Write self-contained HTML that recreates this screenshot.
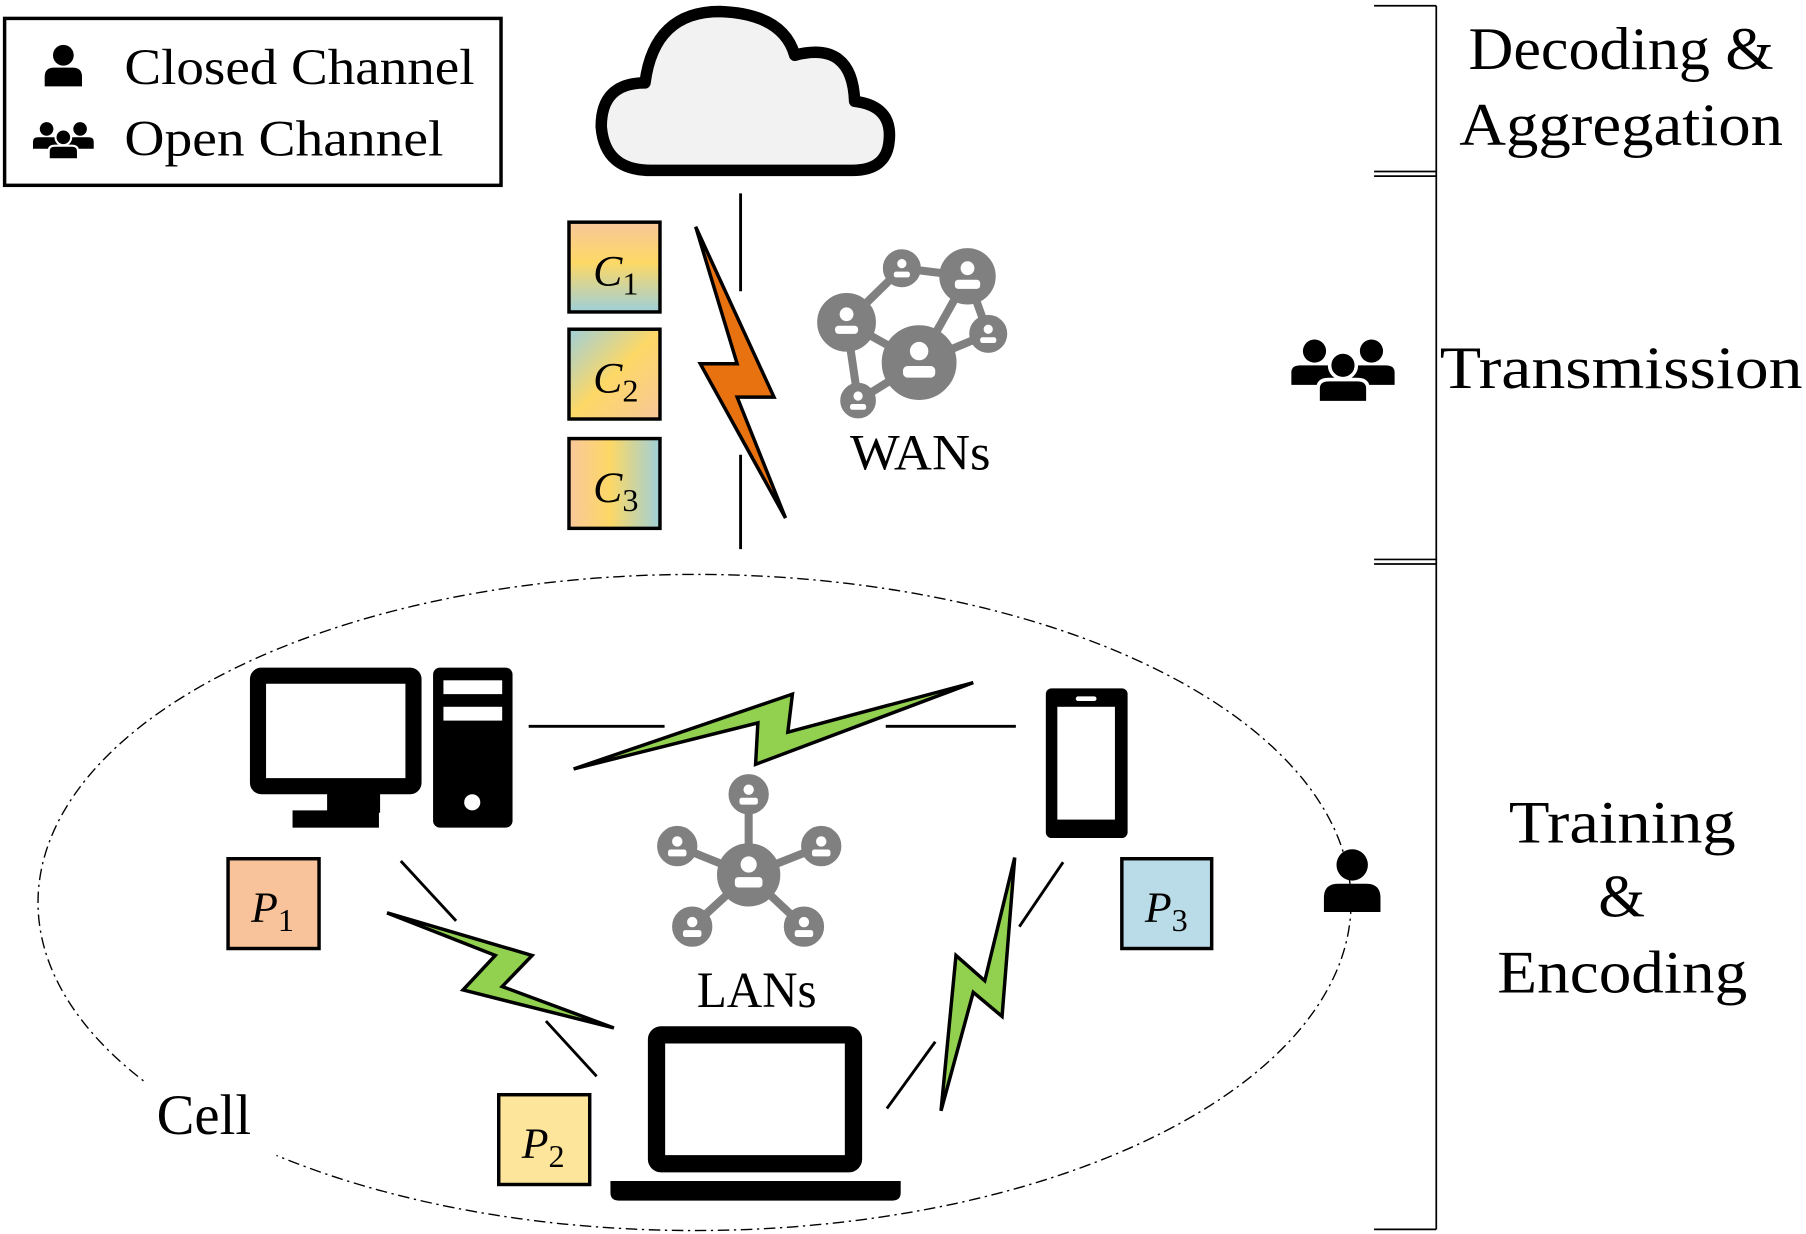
<!DOCTYPE html>
<html><head><meta charset="utf-8"><style>
html,body{margin:0;padding:0;background:#fff;}
svg{display:block;}
text{font-family:"Liberation Serif",serif;fill:#000;}
</style></head><body>
<svg width="1806" height="1234" viewBox="0 0 1568 1072" preserveAspectRatio="none" xmlns="http://www.w3.org/2000/svg">
<defs>
<symbol id="person" viewBox="-20 -22 40 44" overflow="visible">
<circle cx="0" cy="-10" r="10"/>
<path d="M-18,20 V11 Q-18,2 -9,2 H9 Q18,2 18,11 V20 Z"/>
</symbol>
<symbol id="group" viewBox="-30 -22 60 44" overflow="visible">
<circle cx="-16" cy="-11" r="6.5"/><path d="M-29,8 V1 Q-29,-3 -24,-3 H-8 Q-3,-3 -3,1 V8 Z"/>
<circle cx="16" cy="-11" r="6.5"/><path d="M3,8 V1 Q3,-3 8,-3 H24 Q29,-3 29,1 V8 Z"/>
<circle cx="0" cy="-3" r="7.5" stroke="#fff" stroke-width="2"/><path d="M-14,18 V10 Q-14,5 -8,5 H8 Q14,5 14,10 V18 Z" stroke="#fff" stroke-width="2"/>
</symbol>
<linearGradient id="g1" x1="0" y1="0" x2="0" y2="1"><stop offset="0" stop-color="#f8c79a"/><stop offset="0.45" stop-color="#fdd866"/><stop offset="1" stop-color="#9ecfd9"/></linearGradient>
<linearGradient id="g2" x1="0" y1="0" x2="1" y2="1"><stop offset="0" stop-color="#9ecfd9"/><stop offset="0.5" stop-color="#fdd866"/><stop offset="1" stop-color="#f8c79a"/></linearGradient>
<linearGradient id="g3" x1="0" y1="0" x2="1" y2="0"><stop offset="0" stop-color="#f8c79a"/><stop offset="0.45" stop-color="#fdd866"/><stop offset="1" stop-color="#9ecfd9"/></linearGradient>
</defs>

<rect x="4" y="16" width="431" height="145" fill="#fff" stroke="#000" stroke-width="3"/>
<use href="#person" x="37" y="37" width="36" height="40"/>
<use href="#group" x="27" y="102" width="56" height="40"/>
<text x="108" y="73" font-size="44" textLength="304" lengthAdjust="spacingAndGlyphs">Closed Channel</text>
<text x="108" y="135" font-size="44" textLength="277" lengthAdjust="spacingAndGlyphs">Open Channel</text>

<path d="M565,148 Q525,148 522,110 Q522,72 560,72 Q568,10 625,10 Q680,12 690,48 Q740,35 742,88 Q775,92 772,122 Q770,148 740,148 Z" fill="#f2f2f2" stroke="#000" stroke-width="10" stroke-linejoin="round"/>

<g stroke="#000" stroke-width="1.5" fill="none">
<line x1="1247" y1="5" x2="1247" y2="1068"/>
<line x1="1193" y1="5" x2="1247" y2="5"/>
<line x1="1193" y1="149" x2="1247" y2="149"/><line x1="1193" y1="153" x2="1247" y2="153"/>
<line x1="1193" y1="486" x2="1247" y2="486"/><line x1="1193" y1="490" x2="1247" y2="490"/>
<line x1="1193" y1="1068" x2="1247" y2="1068"/>
</g>
<g font-size="52">
<text x="1275" y="60" textLength="265" lengthAdjust="spacingAndGlyphs">Decoding &amp;</text>
<text x="1267" y="126" textLength="281" lengthAdjust="spacingAndGlyphs">Aggregation</text>
<text x="1250" y="337" textLength="315" lengthAdjust="spacingAndGlyphs">Transmission</text>
<text x="1310" y="732" textLength="197" lengthAdjust="spacingAndGlyphs">Training</text>
<text x="1408" y="796" text-anchor="middle">&amp;</text>
<text x="1300" y="862" textLength="217" lengthAdjust="spacingAndGlyphs">Encoding</text>
</g>
<use href="#group" x="1118" y="288" width="96" height="68"/>
<use href="#person" x="1146" y="735" width="56" height="60"/>

<g stroke="#000" stroke-width="3">
<rect x="494" y="193" width="79" height="78" fill="url(#g1)"/>
<rect x="494" y="286" width="79" height="78" fill="url(#g2)"/>
<rect x="494" y="381" width="79" height="78" fill="url(#g3)"/>
</g>
<g font-size="38" font-style="italic">
<text x="515" y="248">C<tspan font-size="28" font-style="normal" dy="8">1</tspan></text>
<text x="515" y="341">C<tspan font-size="28" font-style="normal" dy="8">2</tspan></text>
<text x="515" y="436">C<tspan font-size="28" font-style="normal" dy="8">3</tspan></text>
</g>
<g stroke="#000" stroke-width="2.5">
<line x1="643" y1="168" x2="643" y2="253"/>
<line x1="643" y1="395" x2="643" y2="477"/>
</g>
<polygon points="604,197 672,345 640,345 682,450 608,316 640,316" fill="#e8720f" stroke="#000" stroke-width="3"/>

<g fill="#808080" stroke="#808080">
<g stroke-width="7">
<line x1="735" y1="280" x2="783" y2="233"/><line x1="783" y1="233" x2="840" y2="240"/>
<line x1="840" y1="240" x2="798" y2="315"/><line x1="840" y1="240" x2="858" y2="290"/>
<line x1="735" y1="280" x2="798" y2="315"/><line x1="735" y1="280" x2="745" y2="348"/>
<line x1="745" y1="348" x2="798" y2="315"/><line x1="798" y1="315" x2="858" y2="290"/>
</g>
<circle cx="735" cy="280" r="25"/><circle cx="783" cy="233" r="16"/><circle cx="840" cy="240" r="24"/>
<circle cx="798" cy="315" r="32"/><circle cx="858" cy="290" r="16"/><circle cx="745" cy="348" r="15"/>
</g>
<g fill="#fff">
<circle cx="735" cy="273" r="6"/><rect x="725" y="283" width="20" height="7" rx="3"/>
<circle cx="783" cy="229" r="4"/><rect x="776" y="236" width="14" height="5" rx="2"/>
<circle cx="840" cy="233" r="6"/><rect x="829" y="243" width="22" height="8" rx="3"/>
<circle cx="798" cy="305" r="8"/><rect x="784" y="318" width="28" height="10" rx="4"/>
<circle cx="858" cy="286" r="4"/><rect x="851" y="293" width="14" height="5" rx="2"/>
<circle cx="745" cy="344" r="4"/><rect x="738" y="351" width="14" height="5" rx="2"/>
</g>
<text x="738" y="408" font-size="44" textLength="122" lengthAdjust="spacingAndGlyphs">WANs</text>

<ellipse cx="603" cy="784" rx="570" ry="285" fill="none" stroke="#000" stroke-width="1.2" stroke-dasharray="10,4,2,4"/>
<rect x="110" y="940" width="130" height="70" fill="#fff"/>
<text x="136" y="985" font-size="50" textLength="82" lengthAdjust="spacingAndGlyphs">Cell</text>

<rect x="224" y="587" width="135" height="96" fill="#fff" stroke="#000" stroke-width="14" rx="3"/>
<rect x="284" y="688" width="46" height="18" fill="#000"/>
<rect x="254" y="704" width="75" height="15" fill="#000"/>
<rect x="376" y="580" width="69" height="139" rx="6" fill="#000"/>
<rect x="385" y="591" width="51" height="12" fill="#fff"/>
<rect x="385" y="614" width="51" height="12" fill="#fff"/>
<circle cx="410" cy="697" r="7" fill="#fff"/>

<rect x="908" y="598" width="71" height="130" rx="5" fill="#000"/>
<rect x="918" y="614" width="50" height="98" fill="#fff"/>
<rect x="934" y="605" width="18" height="4" rx="2" fill="#fff"/>

<rect x="570" y="899" width="171" height="112" fill="#fff" stroke="#000" stroke-width="15" rx="4"/>
<path d="M530,1026 H782 V1036 Q782,1043 775,1043 H537 Q530,1043 530,1036 Z" fill="#000"/>

<g stroke="#000" stroke-width="2.5">
<line x1="459" y1="631" x2="577" y2="631"/><line x1="769" y1="631" x2="882" y2="631"/>
<line x1="348" y1="748" x2="396" y2="800"/><line x1="474" y1="887" x2="518" y2="935"/>
<line x1="923" y1="749" x2="885" y2="805"/><line x1="770" y1="963" x2="812" y2="905"/>
</g>
<g fill="#92d050" stroke="#000" stroke-width="3">
<polygon points="498,668 688,603 684,636 845,593 656,664 658,628"/>
<polygon points="336,793 462,830 436,857 533,893 402,860 430,830"/>
<polygon points="881,745 870,883 845,862 817,965 830,830 855,852"/>
</g>

<g fill="#808080" stroke="#808080">
<g stroke-width="7">
<line x1="650" y1="760" x2="650" y2="690"/><line x1="650" y1="760" x2="588" y2="735"/>
<line x1="650" y1="760" x2="713" y2="735"/><line x1="650" y1="760" x2="601" y2="805"/>
<line x1="650" y1="760" x2="698" y2="805"/>
</g>
<circle cx="650" cy="760" r="27"/><circle cx="650" cy="690" r="17"/><circle cx="588" cy="735" r="17"/>
<circle cx="713" cy="735" r="17"/><circle cx="601" cy="805" r="17"/><circle cx="698" cy="805" r="17"/>
</g>
<g fill="#fff">
<circle cx="650" cy="751" r="7"/><rect x="638" y="762" width="24" height="9" rx="3"/>
<circle cx="650" cy="686" r="4.5"/><rect x="642" y="693" width="16" height="6" rx="2"/>
<circle cx="588" cy="731" r="4.5"/><rect x="580" y="738" width="16" height="6" rx="2"/>
<circle cx="713" cy="731" r="4.5"/><rect x="705" y="738" width="16" height="6" rx="2"/>
<circle cx="601" cy="801" r="4.5"/><rect x="593" y="808" width="16" height="6" rx="2"/>
<circle cx="698" cy="801" r="4.5"/><rect x="690" y="808" width="16" height="6" rx="2"/>
</g>
<text x="605" y="875" font-size="44" textLength="104" lengthAdjust="spacingAndGlyphs">LANs</text>

<g stroke="#000" stroke-width="3">
<rect x="198" y="746" width="79" height="78" fill="#f8c39b"/>
<rect x="433" y="951" width="79" height="78" fill="#fde59b"/>
<rect x="974" y="746" width="78" height="78" fill="#b9dce8"/>
</g>
<g font-size="38" font-style="italic">
<text x="218" y="801">P<tspan font-size="28" font-style="normal" dy="8">1</tspan></text>
<text x="453" y="1006">P<tspan font-size="28" font-style="normal" dy="8">2</tspan></text>
<text x="994" y="801">P<tspan font-size="28" font-style="normal" dy="8">3</tspan></text>
</g>
</svg>
</body></html>
